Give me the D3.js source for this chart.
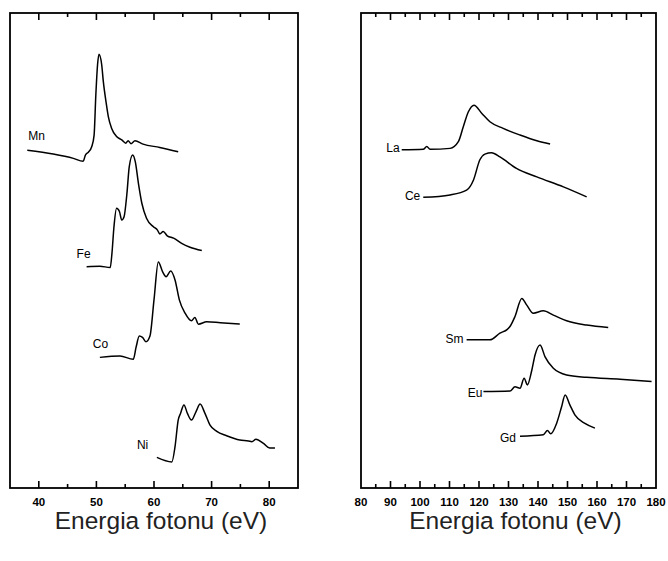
<!DOCTYPE html>
<html>
<head>
<meta charset="utf-8">
<script src="https://cdn.jsdelivr.net/npm/d3@7/dist/d3.min.js"></script>
<style>
  html, body { margin: 0; padding: 0; background: #fff; }
  svg { display: block; }
</style>
</head>
<body>
<svg id="chart" width="668" height="561"></svg>
<script>
// X-ray absorption spectra (arbitrary intensity units, curves offset vertically)

// 3d transition metals (left panel)
const mnEnergy = [38.0, 42.5, 46.0, 47.7, 48.1, 48.6, 49.2, 49.6, 49.9, 50.2, 50.45, 50.92, 51.2, 51.67, 52.07, 52.65, 53.5, 54.4, 55.1, 55.5, 56.0, 56.7, 58.1, 61.0, 64.2];
const mnSignal = [71.1, 70.3, 69.4, 68.8, 70.1, 70.7, 71.9, 74.3, 82.7, 89.1, 91.3, 89.1, 85.6, 81.3, 78.2, 75.7, 74.0, 73.3, 72.6, 73.1, 72.5, 73.1, 72.4, 71.7, 70.8];

const feEnergy = [48.3, 50.6, 52.4, 52.7, 53.05, 53.5, 54.0, 54.4, 54.8, 55.3, 55.7, 56.3, 56.75, 57.3, 57.9, 58.7, 59.9, 60.6, 61.0, 61.6, 62.3, 63.4, 64.8, 66.25, 68.3];
const feSignal = [46.6, 46.7, 46.4, 49.4, 55.0, 58.9, 58.2, 56.4, 57.1, 62.0, 67.6, 70.1, 68.7, 64.1, 59.9, 56.8, 55.0, 54.3, 53.5, 54.0, 53.1, 52.6, 51.5, 50.7, 50.0];

const coEnergy = [50.6, 54.1, 56.4, 56.9, 57.45, 58.0, 58.6, 59.3, 60.0, 60.75, 61.5, 62.1, 62.9, 63.65, 64.4, 65.4, 66.5, 67.1, 67.7, 69.15, 71.5, 74.9];
const coSignal = [27.5, 27.8, 27.1, 29.7, 32.0, 31.7, 30.8, 32.0, 39.6, 47.6, 45.5, 44.5, 45.7, 43.8, 39.6, 36.8, 35.2, 35.9, 34.5, 35.0, 34.8, 34.5];

const niEnergy = [60.5, 63.1, 63.65, 64.2, 64.6, 65.2, 65.8, 66.5, 67.3, 68.0, 68.85, 69.7, 70.9, 72.6, 74.9, 76.4, 77.0, 77.7, 79.0, 80.1, 81.0];
const niSignal = [6.45, 5.5, 8.7, 14.3, 15.7, 17.5, 15.7, 14.3, 16.1, 17.7, 15.7, 13.3, 11.9, 11.0, 10.1, 9.9, 9.75, 10.25, 9.4, 8.4, 8.4];

// Lanthanides (right panel)
const laEnergy = [93.8, 101.1, 102.3, 103.4, 110.2, 113.0, 114.7, 116.4, 118.3, 120.9, 123.7, 128.2, 133.9, 139.6, 144.1];
const laSignal = [71.2, 71.3, 71.9, 71.3, 71.5, 72.9, 76.1, 79.2, 80.6, 78.9, 77.1, 75.7, 74.3, 73.1, 72.4];

const ceEnergy = [101.1, 110.2, 115.8, 118.1, 120.3, 122.0, 124.3, 127.1, 132.7, 139.6, 148.6, 156.5];
const ceSignal = [61.2, 61.7, 62.7, 64.8, 69.1, 70.3, 70.6, 69.7, 67.3, 65.5, 63.4, 61.3];

const smEnergy = [115.8, 123.7, 127.1, 129.6, 130.5, 132.2, 134.5, 136.2, 138.4, 141.8, 145.2, 149.7, 156.5, 163.8];
const smSignal = [31.2, 31.2, 32.6, 33.4, 34.0, 36.1, 39.9, 38.5, 36.8, 37.3, 36.4, 35.2, 34.3, 33.8];

const euEnergy = [121.5, 130.5, 132.2, 133.9, 135.3, 136.4, 137.9, 139.0, 140.7, 142.4, 145.2, 149.7, 156.5, 167.8, 178.5];
const euSignal = [20.3, 20.4, 21.3, 21.0, 23.1, 21.7, 24.8, 28.0, 30.1, 27.6, 25.2, 23.8, 23.3, 22.9, 22.4];

const gdEnergy = [133.9, 141.8, 143.2, 144.3, 146.3, 148.0, 149.2, 150.8, 152.5, 155.9, 159.3];
const gdSignal = [10.9, 11.2, 12.1, 11.4, 13.6, 17.1, 19.6, 17.5, 15.4, 13.6, 12.6];

// Axis ticks and labels
const leftTicks = [40, 50, 60, 70, 80];
const rightTicks = [80, 90, 100, 110, 120, 130, 140, 150, 160, 170, 180];
const axisTitle = "Energia fotonu (eV)";

const zip = (xs, ys) => xs.map((x, i) => ({ e: x, v: ys[i] }));

const panels = [
  {
    domain: [35, 85], range: [10, 298], majors: leftTicks, step: 5,
    series: [
      { name: "Mn", pts: zip(mnEnergy, mnSignal), lab: { dx: 1, dy: -10, anchor: "start" } },
      { name: "Fe", pts: zip(feEnergy, feSignal), lab: { dx: -10, dy: -9, anchor: "start" } },
      { name: "Co", pts: zip(coEnergy, coSignal), lab: { dx: -7, dy: -9, anchor: "start" } },
      { name: "Ni", pts: zip(niEnergy, niSignal), lab: { dx: -20, dy: -8, anchor: "start" } }
    ]
  },
  {
    domain: [80, 180], range: [361, 656], majors: rightTicks, step: 5,
    series: [
      { name: "La", pts: zip(laEnergy, laSignal), lab: { dx: -2, dy: 2, anchor: "end" } },
      { name: "Ce", pts: zip(ceEnergy, ceSignal), lab: { dx: -3, dy: 3, anchor: "end" } },
      { name: "Sm", pts: zip(smEnergy, smSignal), lab: { dx: -3, dy: 3, anchor: "end" } },
      { name: "Eu", pts: zip(euEnergy, euSignal), lab: { dx: -1, dy: 5, anchor: "end" } },
      { name: "Gd", pts: zip(gdEnergy, gdSignal), lab: { dx: -4, dy: 6, anchor: "end" } }
    ]
  }
];

const svg = d3.select("#chart");
const frameTop = 13, frameBottom = 488;
const y = d3.scaleLinear().domain([0, 100]).range([frameBottom, frameTop]);
const font = "Liberation Sans, Arial, Helvetica, sans-serif";

panels.forEach(p => {
  const x = d3.scaleLinear().domain(p.domain).range(p.range);
  const g = svg.append("g");

  const inner = x.ticks((p.domain[1] - p.domain[0]) / p.step)
    .filter(t => t > p.domain[0] && t < p.domain[1]);
  const isMajor = t => p.majors.includes(t);

  // inward ticks on the bottom and top edges
  const tickG = g.append("g").attr("stroke", "#000").attr("stroke-width", 1.6);
  tickG.selectAll("line.bt").data(inner).join("line")
    .attr("class", "bt")
    .attr("x1", d => x(d)).attr("x2", d => x(d))
    .attr("y1", frameBottom).attr("y2", d => frameBottom - (isMajor(d) ? 7 : 4));
  tickG.selectAll("line.tt").data(inner).join("line")
    .attr("class", "tt")
    .attr("x1", d => x(d)).attr("x2", d => x(d))
    .attr("y1", frameTop).attr("y2", d => frameTop + (isMajor(d) ? 7 : 4));

  // tick labels
  g.append("g").selectAll("text").data(p.majors).join("text")
    .attr("x", d => x(d))
    .attr("y", 506)
    .attr("text-anchor", "middle")
    .attr("font-family", font)
    .attr("font-size", 11.5)
    .attr("font-weight", "bold")
    .attr("fill", "#000")
    .text(d => d);

  // frame
  g.append("rect")
    .attr("x", p.range[0]).attr("y", frameTop)
    .attr("width", p.range[1] - p.range[0]).attr("height", frameBottom - frameTop)
    .attr("fill", "none").attr("stroke", "#000").attr("stroke-width", 1.8);

  // spectra
  const line = d3.line().x(d => x(d.e)).y(d => y(d.v)).curve(d3.curveMonotoneX);
  p.series.forEach(s => {
    g.append("path")
      .datum(s.pts)
      .attr("d", line)
      .attr("fill", "none")
      .attr("stroke", "#000")
      .attr("stroke-width", 1.5)
      .attr("stroke-linejoin", "round");

    const first = s.pts[0];
    g.append("text")
      .attr("x", x(first.e) + s.lab.dx)
      .attr("y", y(first.v) + s.lab.dy)
      .attr("text-anchor", s.lab.anchor)
      .attr("font-family", font)
      .attr("font-size", 12)
      .attr("fill", "#000")
      .text(s.name);
  });

  // axis title
  g.append("text")
    .attr("x", (p.range[0] + p.range[1]) / 2 + 7)
    .attr("y", 529)
    .attr("text-anchor", "middle")
    .attr("font-family", font)
    .attr("font-size", 24.5)
    .attr("fill", "#222")
    .text(axisTitle);
});
</script>
</body>
</html>
